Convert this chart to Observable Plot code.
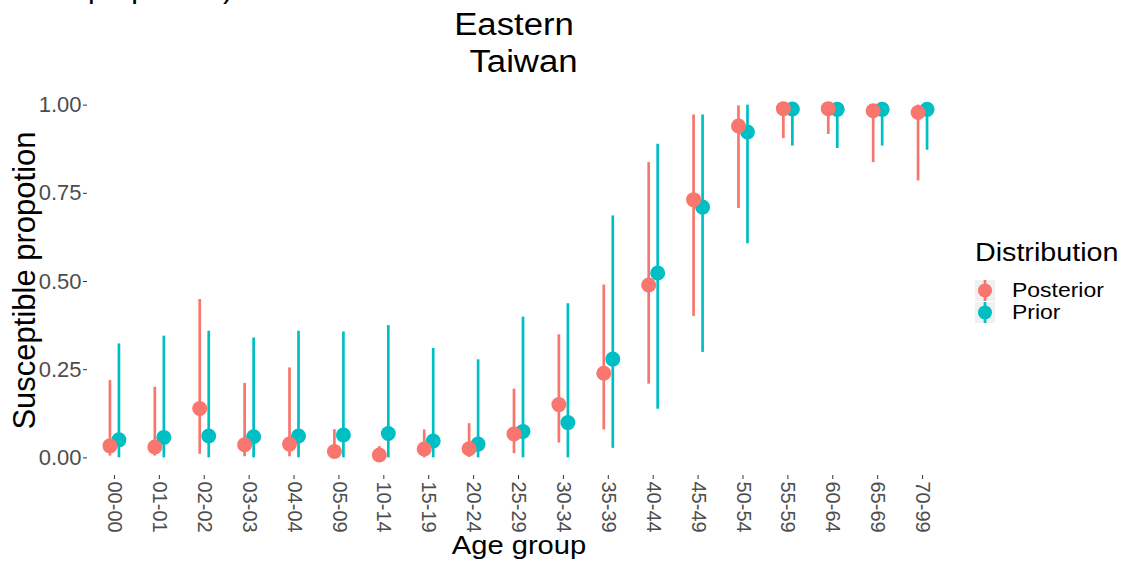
<!DOCTYPE html>
<html>
<head>
<meta charset="utf-8">
<script src="https://cdn.jsdelivr.net/npm/d3@7"></script>
<script src="https://cdn.jsdelivr.net/npm/@observablehq/plot@0.6"></script>
<style>
  html, body { margin: 0; padding: 0; background: #fff; }
  #wrap { position: relative; width: 1124px; height: 564px; overflow: hidden; font-family: "Liberation Sans", Arial, sans-serif; color: #000; }
  #wrap svg { display: block; }
  .ov { position: absolute; white-space: pre; line-height: 1; }
</style>
</head>
<body>
<div id="wrap"></div>
<script>
// ---- data ----
const ageGroups = ["00-00","01-01","02-02","03-03","04-04","05-09","10-14","15-19","20-24","25-29","30-34","35-39","40-44","45-49","50-54","55-59","60-64","65-69","70-99"];
const distributions = ["Posterior", "Prior"];

const posteriorMid  = [0.034,0.031,0.140,0.037,0.039,0.018,0.008,0.025,0.026,0.068,0.151,0.240,0.490,0.732,0.941,0.990,0.990,0.984,0.979];
const posteriorLow  = [0.005,0.005,0.010,0.003,0.003,0.000,0.000,0.000,0.001,0.012,0.042,0.079,0.209,0.401,0.707,0.905,0.917,0.837,0.785];
const posteriorHigh = [0.219,0.200,0.449,0.211,0.255,0.080,0.032,0.079,0.097,0.195,0.349,0.490,0.837,0.972,0.998,1.000,1.000,1.000,1.000];

const priorMid  = [0.051,0.058,0.062,0.060,0.062,0.065,0.069,0.048,0.039,0.075,0.100,0.280,0.524,0.711,0.924,0.989,0.988,0.988,0.988];
const priorLow  = [0.000,0.000,0.000,0.000,0.000,0.000,0.000,0.000,0.000,0.000,0.000,0.027,0.138,0.299,0.607,0.884,0.877,0.884,0.872];
const priorHigh = [0.323,0.345,0.359,0.340,0.359,0.357,0.375,0.310,0.278,0.399,0.437,0.686,0.889,0.972,1.000,1.000,1.000,1.000,1.000];

const yTicks = [0, 0.25, 0.5, 0.75, 1];
const colors = ["#F8766D", "#00BFC4"];

// ---- tables ----
const posterior = ageGroups.map((a, i) => ({age: a, dist: "Posterior", mid: posteriorMid[i], low: posteriorLow[i], high: posteriorHigh[i]}));
const prior = ageGroups.map((a, i) => ({age: a, dist: "Prior", mid: priorMid[i], low: priorLow[i], high: priorHigh[i]}));

const dodge = 4.5;
const plot = Plot.plot({
  width: 1124,
  height: 564,
  marginLeft: 87,
  marginRight: 175,
  marginTop: 87,
  marginBottom: 89,
  style: { fontFamily: "'Liberation Sans', Arial, sans-serif", background: "transparent", color: "#4d4d4d" },
  x: { type: "point", domain: ageGroups, padding: 0.6, round: false, axis: null },
  y: { domain: [-0.05, 1.05], axis: null },
  color: { domain: distributions, range: colors },
  marks: [
    Plot.axisY({ ticks: yTicks, tickFormat: d3.format(".2f"), tickSize: 4, tickPadding: 2, fontSize: 22, label: null, stroke: "#333" }),
    Plot.axisX({ tickRotate: 90, tickSize: 4, tickPadding: 2, fontSize: 20, label: null, stroke: "#333" }),
    Plot.ruleX(posterior, { x: "age", y1: "low", y2: "high", stroke: "dist", strokeWidth: 2.7, dx: -dodge }),
    Plot.ruleX(prior, { x: "age", y1: "low", y2: "high", stroke: "dist", strokeWidth: 2.7, dx: dodge }),
    Plot.dot(prior, { x: "age", y: "mid", r: 7.5, fill: "dist", dx: dodge }),
    Plot.dot(posterior, { x: "age", y: "mid", r: 7.5, fill: "dist", dx: -dodge })
  ]
});

const wrap = document.getElementById("wrap");
wrap.appendChild(plot);

function addText(txt, css) {
  const d = document.createElement("div");
  d.className = "ov";
  d.textContent = txt;
  Object.assign(d.style, css);
  wrap.appendChild(d);
  return d;
}

const stretch = "scaleX(1.12)";
// cut-off heading above the figure
addText("proportion)", { left: "88px", top: "-27px", fontSize: "30px" });
// title
addText("Eastern", { left: "0px", width: "1028px", textAlign: "center", top: "9px", fontSize: "31px", transform: stretch, transformOrigin: "514px 0" });
addText("Taiwan", { left: "0px", width: "1047px", textAlign: "center", top: "46px", fontSize: "31px", transform: stretch, transformOrigin: "523.5px 0" });
// axis titles
addText("Susceptible propotion", { left: "-176px", top: "265px", width: "400px", height: "31px", textAlign: "center", fontSize: "31px", transform: "rotate(-90deg)", transformOrigin: "50% 50%" });
addText("Age group", { left: "0px", width: "1038px", textAlign: "center", top: "532px", fontSize: "26px", transform: stretch, transformOrigin: "519px 0" });

// legend
addText("Distribution", { left: "975px", top: "240px", fontSize: "25.6px", transform: stretch, transformOrigin: "0 0" });
const keyRows = distributions.map((d, i) => ({ d, c: colors[i] }));
keyRows.forEach((k, i) => {
  const top = 280 + i * 21.7;
  const key = document.createElementNS("http://www.w3.org/2000/svg", "svg");
  key.setAttribute("width", 20);
  key.setAttribute("height", 21);
  Object.assign(key.style, { position: "absolute", left: "975px", top: top + "px", background: "#f0f0f0" });
  key.innerHTML = `<line x1="10" x2="10" y1="0" y2="21" stroke="${k.c}" stroke-width="2.7"/><circle cx="10" cy="10.5" r="7" fill="${k.c}"/>`;
  wrap.appendChild(key);
  addText(k.d, { left: "1012px", top: (top + 0.3) + "px", fontSize: "20.5px", transform: stretch, transformOrigin: "0 0" });
});
</script>
</body>
</html>
